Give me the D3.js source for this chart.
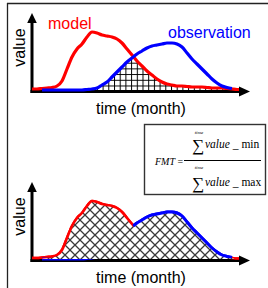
<!DOCTYPE html>
<html>
<head>
<meta charset="utf-8">
<script src="https://cdn.jsdelivr.net/npm/d3@7.9.0/dist/d3.min.js"></script>
<style>
  html, body { margin: 0; padding: 0; background: #fff; overflow: hidden; }
  svg { display: block; }
  .lbl { font-family: "Liberation Sans", Arial, sans-serif; font-size: 16px; }
  .math { font-family: "Liberation Serif", "Times New Roman", serif; }
</style>
</head>
<body>
<svg id="chart" width="268" height="288"></svg>
<script>
// time index (months, unlabeled axis)
const months = d3.range(0, 43);
// curve heights
const model = [1,1,1.5,2,2.5,4,9,21,33,41,46,53,58,57,55,54,53,51,47,41,35,29,24,19,15,11,8,6,5,4,4,3.5,3,3,3,2.5,2,2,2,1.5,1,0.5,0.5];
const observation = [null,null,0,0,0,0,0,0,0,0,0,0.5,1,2,5,8,13,18,23,28,32,36,39,42,44,45,46,47,47,46,43,37,31,26,21,16,11,7,4,2.5,1.5,null,null];
const seriesNames = ["model", "observation"];
const axisLabels = ["value", "time (month)"];

const RED = "#ff0000", BLUE = "#0000ff";
const svg = d3.select("#chart");
const defs = svg.append("defs");

// square grid hatch (top) and diagonal crosshatch (bottom)
const grid = defs.append("pattern").attr("id", "grid")
  .attr("patternUnits", "userSpaceOnUse").attr("width", 5.7).attr("height", 5.7);
grid.append("path").attr("d", "M0,0.5H5.7M0.5,0V5.7")
  .attr("stroke", "#000").attr("stroke-width", 1).attr("fill", "none");

const cross = defs.append("pattern").attr("id", "cross")
  .attr("patternUnits", "userSpaceOnUse").attr("width", 10).attr("height", 10);
cross.append("path").attr("d", "M-1,-1L11,11M11,-1L-1,11")
  .attr("stroke", "#3a3a3a").attr("stroke-width", 1.3).attr("fill", "none");

const rows = months.map((m, i) => ({ m, r: model[i], b: observation[i] }));

// frame lines
svg.append("line").attr("x1", 7.5).attr("x2", 7.5).attr("y1", 3).attr("y2", 288)
  .attr("stroke", "#222").attr("stroke-width", 1.3);
svg.append("line").attr("x1", 7).attr("x2", 268).attr("y1", 3.5).attr("y2", 3.5)
  .attr("stroke", "#222").attr("stroke-width", 1.3);

function panel(top, mode) {
  const base = top + 77;
  const g = svg.append("g");
  const x = d3.scaleLinear().domain([0, 42]).range([32, 242]);
  const y = d3.scaleLinear().domain([0, 77]).range([base, top]);
  const v = d => (d == null ? 0 : d);

  // axis lines
  g.append("line").attr("x1", x(0)).attr("x2", x(0)).attr("y1", base + 3).attr("y2", top + 8)
    .attr("stroke", "#000").attr("stroke-width", 3);
  g.append("line").attr("x1", x(0) - 1.5).attr("x2", x(42)).attr("y1", base + 1.5).attr("y2", base + 1.5)
    .attr("stroke", "#000").attr("stroke-width", 3);

  const lineR = d3.line().x(d => x(d.m)).y(d => y(d.r)).curve(d3.curveMonotoneX);
  const lineB = d3.line().defined(d => d.b != null).x(d => x(d.m)).y(d => y(d.b)).curve(d3.curveMonotoneX);
  const fn = mode === "min" ? Math.min : Math.max;
  const area = d3.area().x(d => x(d.m)).y0(y(0)).y1(d => y(fn(d.r, v(d.b)))).curve(d3.curveMonotoneX);

  if (mode === "min") {
    g.append("path").attr("d", area(rows)).attr("fill", "url(#grid)");
    g.append("path").attr("d", lineR(rows)).attr("fill", "none").attr("stroke", RED).attr("stroke-width", 3.2);
    g.append("path").attr("d", lineB(rows)).attr("fill", "none").attr("stroke", BLUE).attr("stroke-width", 3.2);
  } else {
    g.append("path").attr("d", lineR(rows)).attr("fill", "none").attr("stroke", RED).attr("stroke-width", 2.6);
    g.append("path").attr("d", lineB(rows)).attr("fill", "none").attr("stroke", BLUE).attr("stroke-width", 3);
    g.append("path").attr("d", area(rows)).attr("fill", "#fff");
    g.append("path").attr("d", area(rows)).attr("fill", "url(#cross)");
    // parts of each curve that form the upper envelope
    const aboveB = d3.area().x(d => x(d.m)).y0(top - 5).y1(d => y(v(d.b)) + 0.5).curve(d3.curveMonotoneX);
    const aboveR = d3.area().x(d => x(d.m)).y0(top - 5).y1(d => y(d.r) + 0.5).curve(d3.curveMonotoneX);
    defs.append("clipPath").attr("id", "clipR").append("path").attr("d", aboveB(rows));
    defs.append("clipPath").attr("id", "clipB").append("path").attr("d", aboveR(rows));
    g.append("path").attr("d", lineR(rows)).attr("fill", "none").attr("stroke", RED)
      .attr("stroke-width", 2.6).attr("clip-path", "url(#clipR)");
    g.append("path").attr("d", lineB(rows)).attr("fill", "none").attr("stroke", BLUE)
      .attr("stroke-width", 3).attr("clip-path", "url(#clipB)");
  }

  // arrowheads
  g.append("path").attr("d", `M${x(0)},${top}L${x(0) - 4.8},${top + 10}L${x(0) + 4.8},${top + 10}Z`).attr("fill", "#000");
  g.append("path").attr("d", `M250,${base + 1.5}L239,${base - 3.5}L239,${base + 6.5}Z`).attr("fill", "#000");

  g.append("text").attr("class", "lbl")
    .attr("transform", `translate(25,${(top + base) / 2 - 4}) rotate(-90)`)
    .attr("text-anchor", "middle").text(axisLabels[0]);
  g.append("text").attr("class", "lbl").attr("x", 141).attr("y", base + 24)
    .attr("text-anchor", "middle").text(axisLabels[1]);
  return g;
}

const topPanel = panel(13, "min");
topPanel.append("text").attr("class", "lbl").attr("x", 48).attr("y", 29).attr("fill", RED).text(seriesNames[0]);
topPanel.append("text").attr("class", "lbl").attr("x", 168).attr("y", 38).attr("fill", BLUE).text(seriesNames[1]);
panel(182, "max");

// formula box
const fb = svg.append("g").attr("class", "math");
fb.append("rect").attr("x", 144.5).attr("y", 124.5).attr("width", 121).attr("height", 70)
  .attr("fill", "#fff").attr("stroke", "#333").attr("stroke-width", 1.4);
fb.append("text").attr("x", 175).attr("y", 164.5).attr("font-size", 10).attr("font-style", "italic")
  .attr("text-anchor", "end").text("FMT");
fb.append("text").attr("x", 177.5).attr("y", 164.5).attr("font-size", 10).text("=");
fb.append("line").attr("x1", 184).attr("x2", 261).attr("y1", 160.5).attr("y2", 160.5)
  .attr("stroke", "#000").attr("stroke-width", 1);
[[151, 134, "min"], [189, 169, "max"]].forEach(([sy, ty, word]) => {
  fb.append("text").attr("x", 198).attr("y", sy).attr("font-size", 17).attr("text-anchor", "middle").text("\u2211");
  fb.append("text").attr("x", 199).attr("y", ty).attr("font-size", 5).attr("font-style", "italic")
    .attr("text-anchor", "middle").text("time");
  const t = fb.append("text").attr("x", 205).attr("y", sy - 3).attr("font-size", 11.5);
  t.append("tspan").attr("font-style", "italic").text("value");
  t.append("tspan").text(" _ " + word);
});
</script>
</body>
</html>
